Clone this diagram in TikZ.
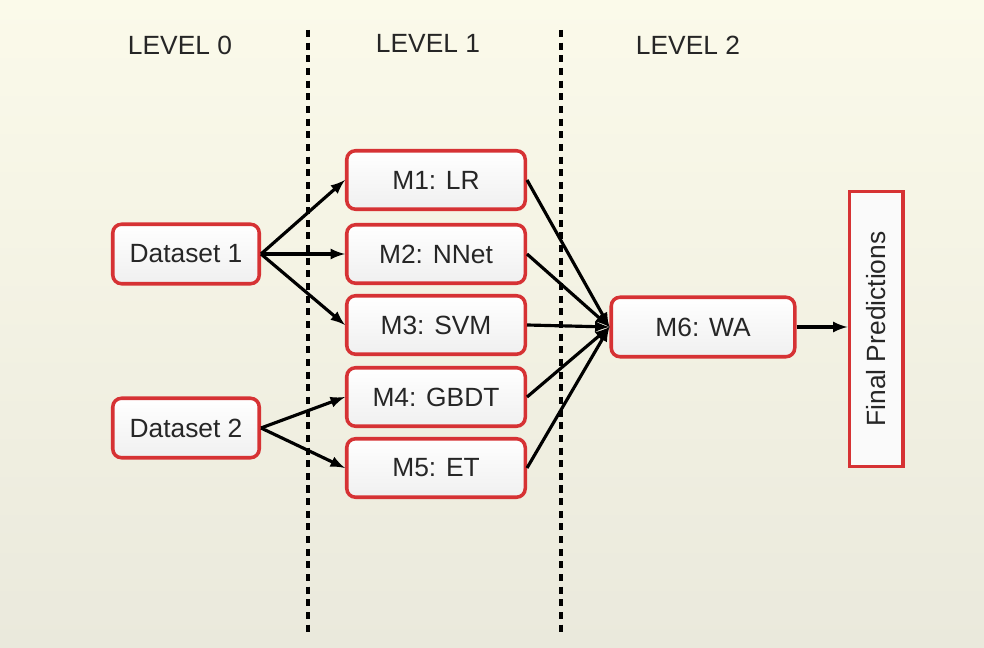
\documentclass[tikz,border=0pt]{standalone}
\usepackage{fontspec}
\setmainfont{Liberation Sans}
\usepackage{xcolor}
\usepackage{tikz}

\definecolor{bgtop}{RGB}{251,250,234}
\definecolor{bgbot}{RGB}{234,233,220}
\definecolor{boxred}{RGB}{214,50,52}

\begin{document}
\begin{tikzpicture}[x=0.2mm, y=-0.2mm]
				\tikzstyle{every node}=[font=\fontsize{15}{18}\selectfont, text=black!85];
				\tikzstyle{box}=[draw=boxred, line width=2pt, rounded corners=5pt, top color=white, bottom color=gray!12, inner sep=0pt];
				\tikzstyle{databox}=[box, minimum width=2.93cm, minimum height=1.19cm];
				\tikzstyle{modelbox}=[box, minimum width=3.57cm, minimum height=1.17cm];
				\tikzstyle{link}=[black, line width=1.8pt, -latex];
				\tikzstyle{divider}=[black, line width=2.2pt, dash pattern=on 4pt off 3.2pt];
				
				%Background
				\useasboundingbox (0, 0) rectangle (984, 648);
				\fill[top color=bgtop, bottom color=bgbot] (0, 0) rectangle (984, 648);
				
				%Levels
				\node (lvl0) at (180, 45) {LEVEL 0};
				\node (lvl1) at (428, 43) {LEVEL 1};
				\node (lvl2) at (688, 45) {LEVEL 2};
				\coordinate (sepA top) at (308, 30);
				\coordinate (sepA bot) at (308, 632);
				\coordinate (sepB top) at (561, 30);
				\coordinate (sepB bot) at (561, 632);
				\draw[divider] (sepA top) -- (sepA bot);
				\draw[divider] (sepB top) -- (sepB bot);
				
				%Datasets
				\node[databox] (d1) at (186, 254) {Dataset 1};
				\node[databox] (d2) at (186, 428) {Dataset 2};
				
				%Models
				\node[modelbox] (m1) at (436, 180) {M1: LR};
				\node[modelbox] (m2) at (436, 254) {M2: NNet};
				\node[modelbox] (m3) at (436, 325) {M3: SVM};
				\node[modelbox] (m4) at (436, 397) {M4: GBDT};
				\node[modelbox] (m5) at (436, 468) {M5: ET};
				\node[box, minimum width=3.67cm, minimum height=1.19cm] (m6) at (703, 327) {M6: WA};
				
				%Output
				\node[draw=boxred, line width=2pt, fill=white!96!gray, rotate=90, minimum width=5.5cm, minimum height=1.07cm, inner sep=0pt] (final) at (876, 329) {Final Predictions};
				
				%Arrows
				\draw[link] (d1.east) -- (m1.west);
				\draw[link] (d1.east) -- (m2.west);
				\draw[link] (d1.east) -- (m3.west);
				\draw[link] (d2.east) -- (m4.west);
				\draw[link] (d2.east) -- (m5.west);
				\draw[link] (m1.east) -- (m6.west);
				\draw[link] (m2.east) -- (m6.west);
				\draw[link] (m3.east) -- (m6.west);
				\draw[link] (m4.east) -- (m6.west);
				\draw[link] (m5.east) -- (m6.west);
				\draw[link] (m6.east) -- (m6.east -| final.north);
			\end{tikzpicture}
\end{document}
